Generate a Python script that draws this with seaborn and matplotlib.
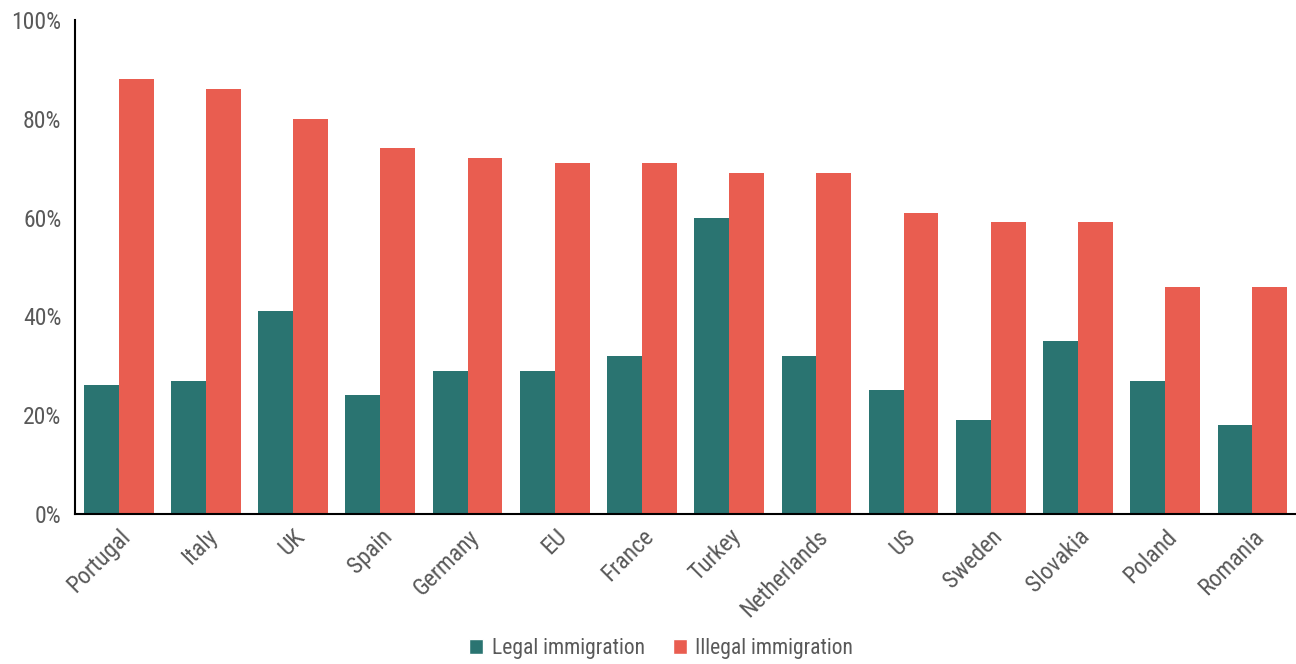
import matplotlib
matplotlib.use('Agg')
import matplotlib.pyplot as plt
from matplotlib.ticker import FuncFormatter
from matplotlib.patches import Patch
from matplotlib import font_manager
import pandas as pd
import seaborn as sns

# data
countries = ['Portugal', 'Italy', 'UK', 'Spain', 'Germany', 'EU', 'France',
             'Turkey', 'Netherlands', 'US', 'Sweden', 'Slovakia', 'Poland', 'Romania']
legal = [26, 27, 41, 24, 29, 29, 32, 60, 32, 25, 19, 35, 27, 18]
illegal = [88, 86, 80, 74, 72, 71, 71, 69, 69, 61, 59, 59, 46, 46]
series = ['Legal immigration', 'Illegal immigration']
colors = ['#2a7471', '#e95d50']

df = pd.DataFrame({'country': countries * 2,
                   'value': legal + illegal,
                   'series': [series[0]] * len(countries) + [series[1]] * len(countries)})

sns.set_style('white')
# look for a narrow font, fall back to Roboto
names = {f.name for f in font_manager.fontManager.ttflist}
narrow = [n for n in ['Liberation Sans Narrow', 'DejaVu Sans Condensed', 'Roboto Condensed'] if n in names]
plt.rcParams['font.family'] = narrow + ['Roboto', 'DejaVu Sans']
plt.rcParams['font.stretch'] = 'condensed'
grey = '#595959'

fig = plt.figure(figsize=(12.96, 6.64), dpi=100)
ax = fig.add_axes([0.058, 0.226, 0.942, 0.744])

sns.barplot(data=df, x='country', y='value', hue='series', palette=colors,
            width=0.8, saturation=1, legend=False, linewidth=0, ax=ax)

ax.set_xlim(-0.5, 13.5)
ax.set_ylim(0, 100)
ax.set_yticks([0, 20, 40, 60, 80, 100])
ax.yaxis.set_major_formatter(FuncFormatter(lambda v, p: f'{int(v)}%'))
ax.set_xlabel('')
ax.set_ylabel('')
sns.despine(ax=ax, top=True, right=True)
for s in ['left', 'bottom']:
    ax.spines[s].set_color('black')
    ax.spines[s].set_linewidth(1.5)

ax.tick_params(axis='y', labelsize=17, colors=grey, length=0, pad=10)
ax.tick_params(axis='x', labelsize=17, colors=grey, length=0, pad=8)
for lbl in ax.get_xticklabels():
    lbl.set_rotation(45)
    lbl.set_ha('right')
    lbl.set_rotation_mode('anchor')

handles = [Patch(facecolor=c, label=s) for c, s in zip(colors, series)]
leg = fig.legend(handles=handles, loc='lower center', bbox_to_anchor=(0.51, -0.022),
                 ncol=2, frameon=False, fontsize=15.5, handlelength=0.65, handleheight=0.65,
                 handletextpad=0.4, columnspacing=1.3)
for t in leg.get_texts():
    t.set_color(grey)

fig.savefig('out.png', dpi=100)
